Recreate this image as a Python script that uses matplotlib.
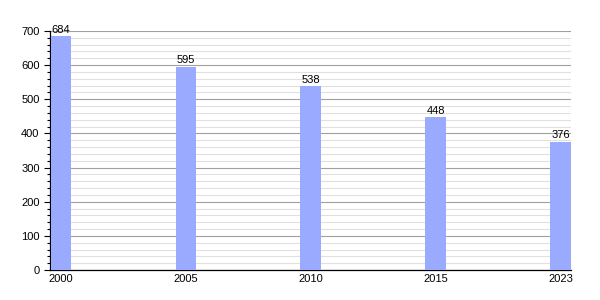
import matplotlib
matplotlib.use("Agg")
import matplotlib.pyplot as plt
from matplotlib.ticker import MultipleLocator

plt.rcParams["font.family"] = ["Liberation Sans", "DejaVu Sans"]

years = ["2000", "2005", "2010", "2015", "2023"]
values = [684, 595, 538, 448, 376]

fig = plt.figure(figsize=(6, 3), dpi=100)
ax = fig.add_axes([0.0833, 0.1, 0.869, 0.797])

x = list(range(len(years)))
ax.bar(x, values, width=0.165, color="#9aabff", zorder=3)
for xi, v in zip(x, values):
    ax.text(xi, v + 4, str(v), ha="center", va="bottom", fontsize=8, zorder=4)

ax.set_xlim(-0.088, 4.088)
ax.set_ylim(0, 700)
ax.set_xticks(x)
ax.set_xticklabels(years, fontsize=8)
ax.yaxis.set_major_locator(MultipleLocator(100))
ax.yaxis.set_minor_locator(MultipleLocator(20))
ax.tick_params(axis="y", labelsize=8, length=4, width=0.8, color="black")
ax.tick_params(axis="y", which="minor", length=2.5, width=0.8)
ax.tick_params(axis="x", length=0, pad=3)
ax.grid(axis="y", which="major", color="#a0a0a0", linewidth=0.8, zorder=0)
ax.grid(axis="y", which="minor", color="#e0e0e0", linewidth=0.8, zorder=0)
for s in ["top", "right"]:
    ax.spines[s].set_visible(False)
ax.spines["left"].set_linewidth(0.9)
ax.spines["bottom"].set_linewidth(0.9)

fig.savefig("out.png", dpi=100)
